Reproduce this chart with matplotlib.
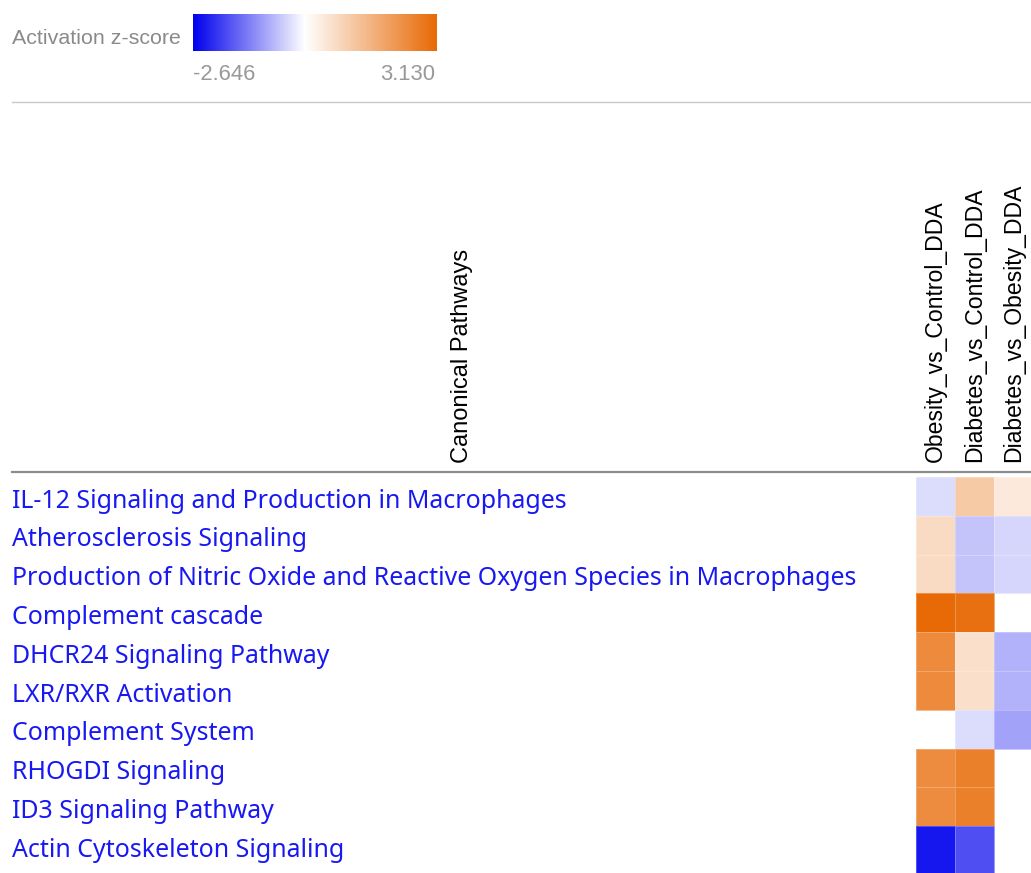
import matplotlib.pyplot as plt
from matplotlib.colors import LinearSegmentedColormap, TwoSlopeNorm
from matplotlib.transforms import blended_transform_factory
import numpy as np

# Pathways (rows) and comparisons (columns)
pathways = [
    "IL-12 Signaling and Production in Macrophages",
    "Atherosclerosis Signaling",
    "Production of Nitric Oxide and Reactive Oxygen Species in Macrophages",
    "Complement cascade",
    "DHCR24 Signaling Pathway",
    "LXR/RXR Activation",
    "Complement System",
    "RHOGDI Signaling",
    "ID3 Signaling Pathway",
    "Actin Cytoskeleton Signaling",
]
comparisons = ["Obesity_vs_Control_DDA", "Diabetes_vs_Control_DDA", "Diabetes_vs_Obesity_DDA"]

# activation z-scores, NaN = no prediction
obesity_vs_control = [-0.36, 0.75, 0.75, 3.130, 2.45, 2.45, np.nan, 2.40, 2.40, -2.40]
diabetes_vs_control = [1.12, -0.61, -0.61, 3.00, 0.66, 0.66, -0.36, 2.65, 2.65, -1.83]
diabetes_vs_obesity = [0.45, -0.43, -0.43, np.nan, -0.79, -0.79, -0.97, np.nan, np.nan, np.nan]

z_min, z_max = -2.646, 3.130

W, H = 1031, 873
fig = plt.figure(figsize=(W / 100, H / 100), dpi=100)


def fx(px):
    return px / W


def fy(py):
    return 1 - py / H


cmap = LinearSegmentedColormap.from_list("zscore", ["#0000ee", "#ffffff", "#e86a06"])
norm = TwoSlopeNorm(vmin=z_min, vcenter=0, vmax=z_max)

# heatmap axes
cell_w, cell_h = 39, 38.8
top = 477
n_rows = len(pathways)
z = np.column_stack([obesity_vs_control, diabetes_vs_control, diabetes_vs_obesity])
x_edges = np.arange(len(comparisons) + 1)
y_edges = np.arange(n_rows + 1, dtype=float)
y_edges[-1] += 0.25  # last row runs off the bottom edge
ax_h = cell_h * y_edges[-1]
ax = fig.add_axes([fx(916), fy(top + ax_h), fx(cell_w * 3), ax_h / H])
ax.pcolormesh(x_edges, y_edges, np.ma.masked_invalid(z), cmap=cmap, norm=norm,
              edgecolors=(1, 1, 1, 0.25), linewidth=0.6)
ax.set_xlim(0, 3)
ax.set_ylim(y_edges[-1], 0)
for s in ax.spines.values():
    s.set_visible(False)
ax.set_yticks([])
ax.xaxis.tick_top()
ax.set_xticks(np.arange(len(comparisons)) + 0.5)
ax.set_xticklabels(comparisons, rotation=90, fontsize=16.6, family="Liberation Sans",
                   va="bottom", ha="center")
ax.tick_params(axis="x", length=0, pad=11)

# row labels at the left edge
tr = blended_transform_factory(fig.transFigure, ax.transData)
for i, name in enumerate(pathways):
    ax.text(fx(12), i + 0.62, name, transform=tr, ha="left", va="center",
            color="#1818f2", fontsize=17.95, family="Noto Sans", clip_on=False)

# column header for the pathway names
fig.text(fx(462), fy(463), "Canonical Pathways", rotation=90, ha="center", va="bottom",
         fontsize=17, family="Liberation Sans", color="black")

# separator lines
fig.add_artist(plt.Line2D([fx(12), 1], [fy(472), fy(472)], color="#8c8c8c", linewidth=1.6))
fig.add_artist(plt.Line2D([fx(12), 1], [fy(102), fy(102)], color="#c8c8c8", linewidth=1.0))

# colour legend
fig.text(fx(12), fy(38), "Activation z-score", ha="left", va="center", fontsize=15.4,
         family="Liberation Sans", color="#8a8a8a")
cax = fig.add_axes([fx(193), fy(51), fx(244), 37 / H])
grad = np.linspace(z_min, z_max, 400).reshape(1, -1)
cax.imshow(grad, aspect="auto", cmap=cmap, norm=norm, extent=[z_min, z_max, 0, 1])
cax.set_xticks([])
cax.set_yticks([])
for s in cax.spines.values():
    s.set_visible(False)
fig.text(fx(193), fy(74), f"{z_min:.3f}", ha="left", va="center", fontsize=15.8,
         family="Liberation Sans", color="#999999")
fig.text(fx(435), fy(74), f"{z_max:.3f}", ha="right", va="center", fontsize=15.8,
         family="Liberation Sans", color="#999999")

fig.savefig("out.png", dpi=100)
